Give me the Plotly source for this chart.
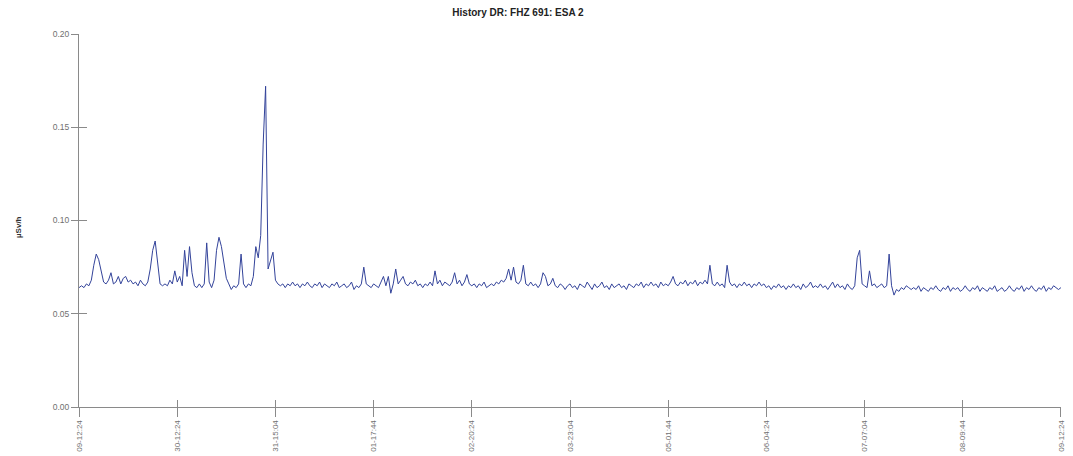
import pandas as pd
import plotly.graph_objects as go

# Dose-rate readings (µSv/h), one every 40 minutes
dose_rate = [
    0.064, 0.065, 0.064, 0.066, 0.065, 0.068, 0.076, 0.082, 0.079, 0.073, 0.067, 0.066, 0.068, 0.072, 0.066, 0.067, 0.070, 0.066, 0.069, 0.070,
    0.067, 0.068, 0.066, 0.067, 0.065, 0.068, 0.066, 0.065, 0.067, 0.074, 0.084, 0.089, 0.076, 0.066, 0.065, 0.066, 0.065, 0.068, 0.066, 0.073,
    0.067, 0.070, 0.065, 0.084, 0.070, 0.086, 0.072, 0.065, 0.064, 0.066, 0.064, 0.066, 0.088, 0.067, 0.064, 0.068, 0.084, 0.091, 0.086, 0.078,
    0.069, 0.066, 0.063, 0.065, 0.064, 0.066, 0.082, 0.066, 0.064, 0.066, 0.065, 0.070, 0.086, 0.080, 0.092, 0.141, 0.172, 0.074, 0.078, 0.083,
    0.068, 0.066, 0.065, 0.066, 0.064, 0.066, 0.065, 0.067, 0.065, 0.066, 0.064, 0.066, 0.065, 0.067, 0.065, 0.064, 0.066, 0.065, 0.067, 0.064,
    0.066, 0.065, 0.064, 0.066, 0.065, 0.067, 0.064, 0.065, 0.066, 0.064, 0.065, 0.067, 0.063, 0.065, 0.064, 0.066, 0.075, 0.066, 0.065, 0.064,
    0.066, 0.065, 0.064, 0.067, 0.070, 0.065, 0.070, 0.061, 0.066, 0.074, 0.066, 0.068, 0.070, 0.066, 0.065, 0.067, 0.066, 0.068, 0.065, 0.066,
    0.064, 0.066, 0.065, 0.067, 0.065, 0.073, 0.066, 0.068, 0.065, 0.067, 0.066, 0.065, 0.067, 0.072, 0.066, 0.068, 0.065, 0.067, 0.071, 0.066,
    0.065, 0.066, 0.064, 0.066, 0.065, 0.067, 0.064, 0.065, 0.066, 0.065, 0.067, 0.066, 0.068, 0.067, 0.069, 0.074, 0.068, 0.075, 0.067, 0.066,
    0.068, 0.076, 0.066, 0.065, 0.067, 0.065, 0.066, 0.064, 0.066, 0.072, 0.070, 0.065, 0.066, 0.069, 0.065, 0.064, 0.066, 0.065, 0.063, 0.065,
    0.066, 0.064, 0.065, 0.063, 0.066, 0.065, 0.064, 0.067, 0.065, 0.063, 0.066, 0.064, 0.065, 0.067, 0.064, 0.065, 0.063, 0.066, 0.064, 0.065,
    0.066, 0.064, 0.065, 0.063, 0.066, 0.065, 0.064, 0.066, 0.065, 0.067, 0.064, 0.066, 0.065, 0.067, 0.065, 0.066, 0.064, 0.067, 0.065, 0.066,
    0.065, 0.067, 0.070, 0.066, 0.065, 0.067, 0.066, 0.068, 0.065, 0.067, 0.066, 0.068, 0.065, 0.067, 0.066, 0.068, 0.066, 0.076, 0.066, 0.065,
    0.067, 0.065, 0.066, 0.064, 0.076, 0.067, 0.065, 0.066, 0.064, 0.066, 0.065, 0.067, 0.065, 0.066, 0.064, 0.066, 0.065, 0.067, 0.065, 0.066,
    0.064, 0.065, 0.063, 0.065, 0.064, 0.066, 0.064, 0.065, 0.063, 0.065, 0.064, 0.066, 0.064, 0.065, 0.063, 0.066, 0.064, 0.065, 0.067, 0.064,
    0.065, 0.064, 0.066, 0.064, 0.065, 0.063, 0.065, 0.067, 0.064, 0.066, 0.064, 0.065, 0.063, 0.066, 0.064, 0.063, 0.065, 0.080, 0.084, 0.066,
    0.065, 0.064, 0.073, 0.065, 0.066, 0.064, 0.065, 0.066, 0.064, 0.065, 0.082, 0.065, 0.060, 0.063, 0.062, 0.064, 0.063, 0.065, 0.064, 0.063,
    0.064, 0.063, 0.065, 0.062, 0.064, 0.063, 0.062, 0.064, 0.063, 0.065, 0.063, 0.062, 0.064, 0.063, 0.065, 0.062, 0.064, 0.063, 0.064, 0.062,
    0.063, 0.065, 0.063, 0.062, 0.064, 0.063, 0.065, 0.062, 0.064, 0.063, 0.062, 0.064, 0.063, 0.065, 0.062, 0.063, 0.064, 0.062, 0.063, 0.065,
    0.063, 0.062, 0.064, 0.063, 0.065, 0.062, 0.064, 0.063, 0.065, 0.063, 0.062, 0.064, 0.063, 0.065, 0.062, 0.064, 0.063, 0.065, 0.064, 0.063,
    0.064,
]

start_time = "2023-12-29 09:44"
sample_step = "40min"
tick_step = "1600min"  # 26 h 40 min

x_tick_labels = [
    "09-12:24", "30-12:24", "31-15:04", "01-17:44", "02-20:24", "03-23:04",
    "05-01:44", "06-04:24", "07-07:04", "08-09:44", "09-12:24",
]
y_tick_values = [0.00, 0.05, 0.10, 0.15, 0.20]
y_tick_labels = ["0.00", "0.05", "0.10", "0.15", "0.20"]

times = pd.date_range(start_time, periods=len(dose_rate), freq=sample_step)
tick_times = pd.date_range(start_time, periods=len(x_tick_labels), freq=tick_step)
x_range = [times[0] - pd.Timedelta("1min"), times[-1] + pd.Timedelta("1min")]

line_col = "#33439a"
fig = go.Figure()
fig.add_trace(go.Scatter(
    x=times, y=dose_rate, mode="lines",
    line=dict(color=line_col, width=1),
    hoverinfo="x+y", showlegend=False,
))
# same series on the overlay axes (transparent) so those axes get drawn
fig.add_trace(go.Scatter(
    x=times, y=dose_rate, mode="lines", xaxis="x2", yaxis="y2",
    line=dict(color="rgba(0,0,0,0)", width=1),
    hoverinfo="skip", showlegend=False,
))

font_fam = "Liberation Sans, Arial, sans-serif"
axis_col = "#8a8a8a"

# the page body has an 8px margin, so the figure is drawn 8px in from the top-left;
# its width is kept so the last tick label stays inside the visible window
W, H = 1057, 448
plot_w = W - 71 - 4
fig.update_layout(
    width=W, height=H,
    margin=dict(l=71, r=4, t=26, b=49, autoexpand=False),
    paper_bgcolor="white", plot_bgcolor="white",
    title=dict(
        text="<b>History DR: FHZ 691: ESA 2</b>",
        font=dict(family=font_fam, size=10, color="#222222"),
        x=510 / W, xanchor="center", xref="container",
        y=1 - 4 / H, yanchor="middle", yref="container",
    ),
    xaxis=dict(
        type="date", range=x_range, automargin=False,
        tickvals=tick_times, ticktext=x_tick_labels, tickangle=-90,
        ticklabeloverflow="allow",
        ticks="outside", ticklen=9, tickcolor=axis_col, tickwidth=1,
        showline=True, linecolor=axis_col, linewidth=1,
        showgrid=False, zeroline=False,
        tickfont=dict(family=font_fam, size=8, color="#707070"),
    ),
    xaxis2=dict(
        type="date", range=x_range, overlaying="x", side="bottom", automargin=False,
        tickvals=tick_times, ticks="inside", ticklen=7, tickcolor=axis_col,
        showticklabels=False, showline=False, showgrid=False, zeroline=False,
    ),
    yaxis=dict(
        range=[0, 0.2], tickvals=y_tick_values, ticktext=y_tick_labels, automargin=False,
        ticklabeloverflow="allow",
        ticks="outside", ticklen=7, tickcolor=axis_col, tickwidth=1,
        showline=True, linecolor=axis_col, linewidth=1,
        showgrid=False, zeroline=False,
        tickfont=dict(family=font_fam, size=8.5, color="#707070"),
    ),
    yaxis2=dict(
        range=[0, 0.2], overlaying="y", side="left", automargin=False,
        tickvals=y_tick_values, ticks="inside", ticklen=8, tickcolor=axis_col,
        showticklabels=False, showline=False, showgrid=False, zeroline=False,
    ),
    annotations=[dict(
        text="<b>µSv/h</b>", textangle=-90,
        xref="paper", yref="paper", x=(18 - 79) / plot_w, y=(407 - 227) / 373,
        xanchor="center", yanchor="middle", showarrow=False,
        font=dict(family=font_fam, size=8, color="#333333"),
    )],
)

fig.write_html("out.html")
